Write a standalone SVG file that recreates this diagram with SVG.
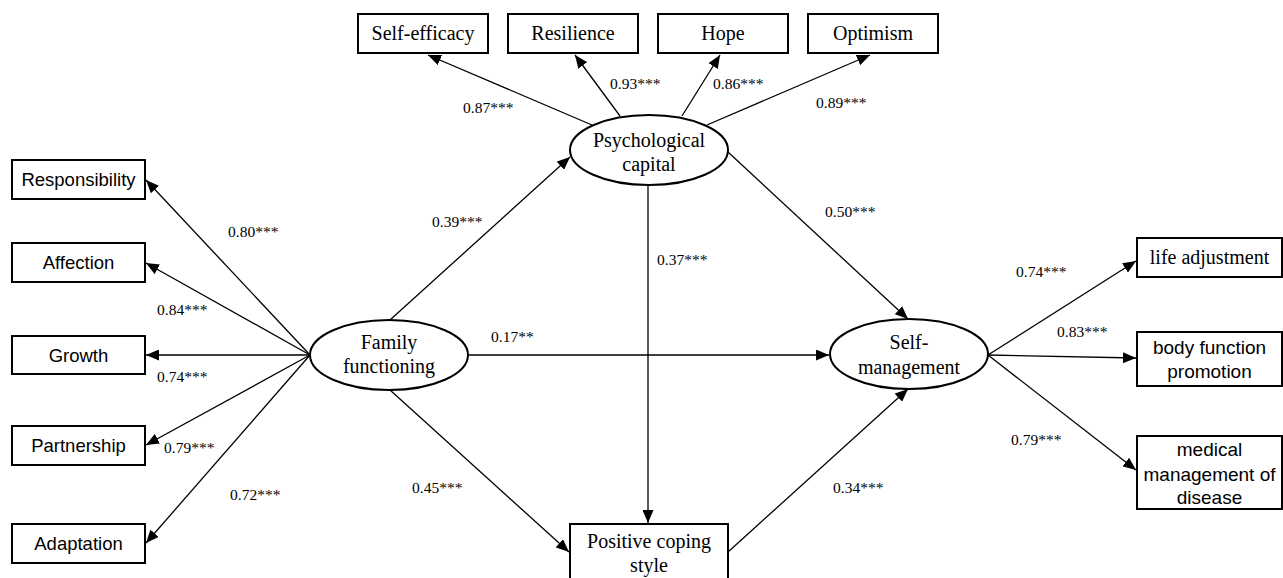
<svg xmlns="http://www.w3.org/2000/svg" width="1283" height="578" viewBox="0 0 1283 578">
<style>
.box{fill:#fff;stroke:#000;stroke-width:2}
.ell{fill:#fff;stroke:#000;stroke-width:2}
.serif{font-family:"Liberation Serif","Times New Roman",serif;font-size:20px;fill:#000;text-anchor:middle}
.sans{font-family:"Liberation Sans",Arial,sans-serif;font-size:18.5px;fill:#000;text-anchor:middle}
.sansr{font-family:"Liberation Sans",Arial,sans-serif;font-size:19px;fill:#000;text-anchor:middle}
.lab{font-family:"Liberation Serif","Times New Roman",serif;font-size:15.5px;fill:#000}
.con line{stroke:#000;stroke-width:1.3;marker-end:url(#arr)}
</style>
<defs>
<marker id="arr" markerUnits="userSpaceOnUse" markerWidth="13" markerHeight="11" refX="13" refY="5.5" orient="auto">
<path d="M0,0 L13,5.5 L0,11 z" fill="#000"/>
</marker>
</defs>
<rect width="1283" height="578" fill="#fff"/>

<g id="connectors" class="con">
<line x1="310" y1="355" x2="146" y2="180"/>
<line x1="310" y1="355" x2="146" y2="263"/>
<line x1="310" y1="355" x2="146" y2="355"/>
<line x1="310" y1="355" x2="146" y2="445"/>
<line x1="310" y1="355" x2="146" y2="543"/>
<line x1="592" y1="125" x2="428" y2="55"/>
<line x1="620" y1="116" x2="575" y2="55"/>
<line x1="682" y1="116" x2="720" y2="55"/>
<line x1="707" y1="125" x2="870" y2="55"/>
<line x1="390" y1="320" x2="570" y2="157"/>
<line x1="728" y1="152" x2="908" y2="319"/>
<line x1="468" y1="355" x2="829" y2="355"/>
<line x1="390" y1="390" x2="569" y2="552"/>
<line x1="648" y1="185" x2="648" y2="523"/>
<line x1="728" y1="552" x2="908" y2="389"/>
<line x1="988" y1="355" x2="1136" y2="261"/>
<line x1="988" y1="355" x2="1136" y2="358"/>
<line x1="988" y1="355" x2="1136" y2="470"/>
</g>

<g id="labels">
<text class="lab" x="463" y="113">0.87***</text>
<text class="lab" x="610" y="89">0.93***</text>
<text class="lab" x="713" y="89">0.86***</text>
<text class="lab" x="816" y="108">0.89***</text>
<text class="lab" x="228" y="237">0.80***</text>
<text class="lab" x="157" y="315">0.84***</text>
<text class="lab" x="157" y="382">0.74***</text>
<text class="lab" x="164" y="453">0.79***</text>
<text class="lab" x="230" y="500">0.72***</text>
<text class="lab" x="432" y="227">0.39***</text>
<text class="lab" x="412" y="493">0.45***</text>
<text class="lab" x="491" y="342">0.17**</text>
<text class="lab" x="657" y="265">0.37***</text>
<text class="lab" x="825" y="217">0.50***</text>
<text class="lab" x="833" y="493">0.34***</text>
<text class="lab" x="1016" y="277">0.74***</text>
<text class="lab" x="1057" y="337">0.83***</text>
<text class="lab" x="1011" y="445">0.79***</text>
</g>

<g id="self-efficacy"><rect class="box" x="358" y="14" width="130" height="39"/><text class="serif" x="423" y="40">Self-efficacy</text></g>
<g id="resilience"><rect class="box" x="508" y="14" width="130" height="39"/><text class="serif" x="573" y="40">Resilience</text></g>
<g id="hope"><rect class="box" x="658" y="14" width="130" height="39"/><text class="serif" x="723" y="40">Hope</text></g>
<g id="optimism"><rect class="box" x="808" y="14" width="130" height="39"/><text class="serif" x="873" y="40">Optimism</text></g>

<g id="psychological-capital"><ellipse class="ell" cx="649" cy="150" rx="79" ry="35"/><text class="serif" x="649" y="147">Psychological</text><text class="serif" x="649" y="171">capital</text></g>
<g id="family-functioning"><ellipse class="ell" cx="389" cy="355" rx="79" ry="35"/><text class="serif" x="389" y="349">Family</text><text class="serif" x="389" y="373">functioning</text></g>
<g id="self-management"><ellipse class="ell" cx="909" cy="354" rx="79" ry="35"/><text class="serif" x="909" y="349">Self-</text><text class="serif" x="909" y="374">management</text></g>
<g id="positive-coping-style"><rect class="box" x="570" y="524" width="158" height="62"/><text class="serif" x="649" y="548">Positive coping</text><text class="serif" x="649" y="572">style</text></g>

<g id="responsibility"><rect class="box" x="12" y="160" width="133" height="39"/><text class="sans" x="78.5" y="186">Responsibility</text></g>
<g id="affection"><rect class="box" x="12" y="243" width="133" height="39"/><text class="sans" x="78.5" y="269">Affection</text></g>
<g id="growth"><rect class="box" x="12" y="336" width="133" height="38"/><text class="sans" x="78.5" y="362">Growth</text></g>
<g id="partnership"><rect class="box" x="12" y="426" width="133" height="39"/><text class="sans" x="78.5" y="452">Partnership</text></g>
<g id="adaptation"><rect class="box" x="12" y="524" width="133" height="39"/><text class="sans" x="78.5" y="550">Adaptation</text></g>

<g id="life-adjustment"><rect class="box" x="1137" y="238" width="145" height="39"/><text class="serif" x="1209.5" y="264">life adjustment</text></g>
<g id="body-function-promotion"><rect class="box" x="1137" y="332" width="145" height="54"/><text class="sansr" x="1209.5" y="354">body function</text><text class="sansr" x="1209.5" y="378">promotion</text></g>
<g id="medical-management"><rect class="box" x="1137" y="436" width="145" height="73"/><text class="sansr" x="1209.5" y="456">medical</text><text class="sansr" x="1209.5" y="481">management of</text><text class="sansr" x="1209.5" y="504">disease</text></g>
</svg>
